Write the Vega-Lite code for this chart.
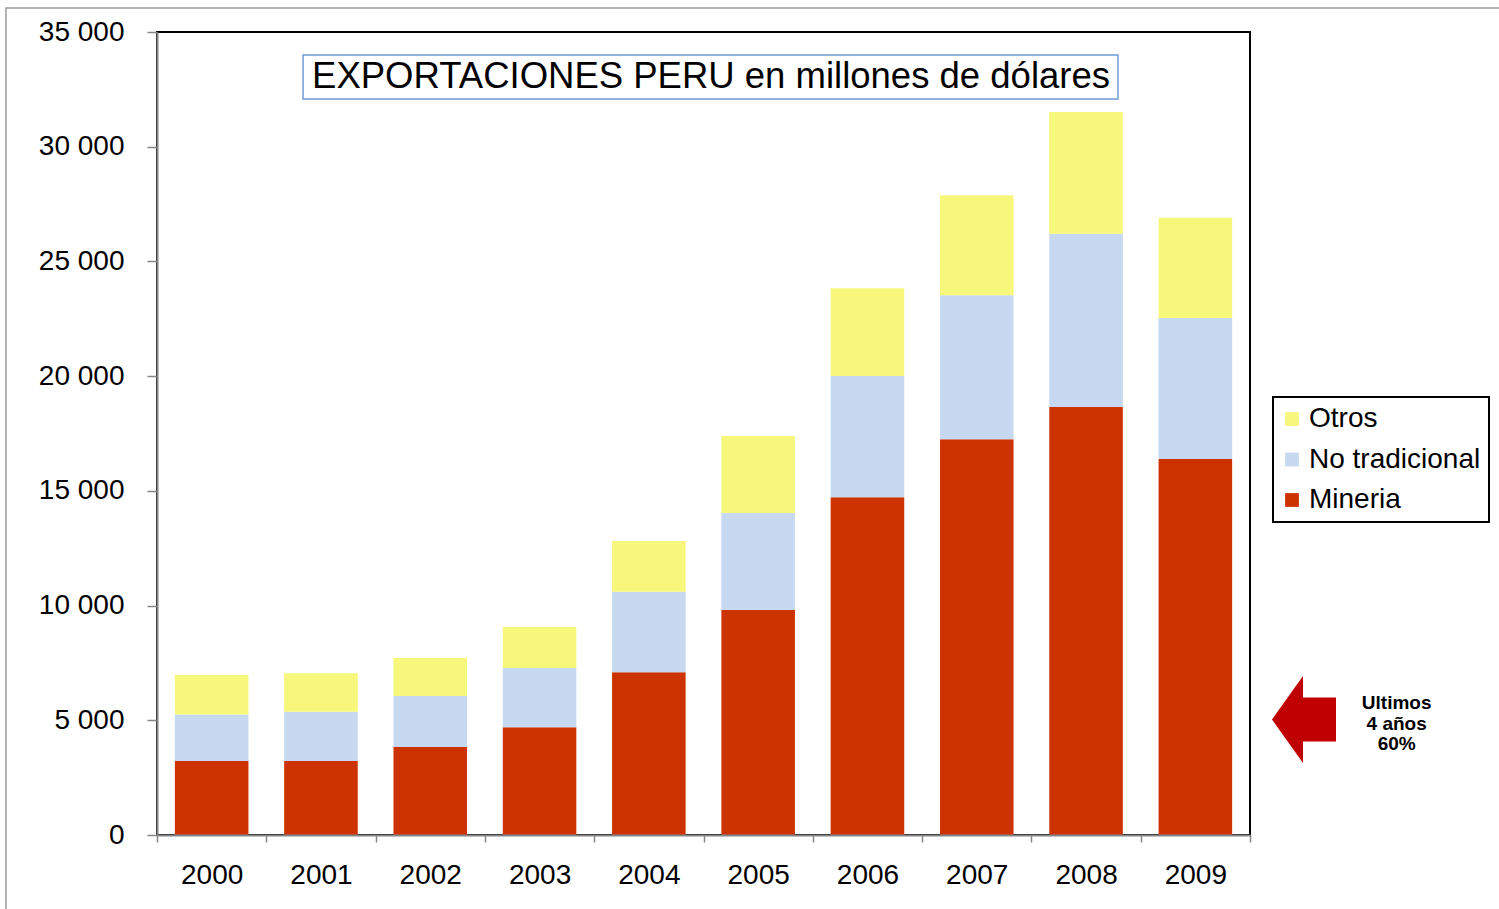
{
  "$schema": "https://vega.github.io/schema/vega-lite/v6.json",
  "width": 1093,
  "height": 803,
  "autosize": {"type": "none"},
  "padding": {"left": 157, "top": 32, "right": 249, "bottom": 74},
  "background": "white",
  "config": {
    "locale": {"number": {"decimal": ",", "thousands": " ", "grouping": [3], "currency": ["", ""]}},
    "font": "Liberation Sans",
    "view": {"stroke": "#000000", "strokeWidth": 2},
    "legend": {"strokeWidth": 2}
  },
  "layer": [
    {
      "data": {"values": [{"xa": -0.1382, "xb": 1.35, "ya": 36046, "yb": -6000}]},
      "mark": {"type": "rect", "fillOpacity": 0, "stroke": "#9a9a9a", "strokeWidth": 1.5},
      "encoding": {
        "x": {"field": "xa", "type": "quantitative", "scale": {"domain": [0, 1], "nice": false, "zero": false}, "axis": null},
        "x2": {"field": "xb"},
        "y": {"field": "ya", "type": "quantitative", "scale": {"domain": [0, 35000], "nice": false}, "axis": null},
        "y2": {"field": "yb"}
      }
    },
    {
      "data": {"values": [
        {"year": "2000", "tipo": "Mineria", "value": 3225},
        {"year": "2000", "tipo": "No tradicional", "value": 2030},
        {"year": "2000", "tipo": "Otros", "value": 1720},
        {"year": "2001", "tipo": "Mineria", "value": 3225},
        {"year": "2001", "tipo": "No tradicional", "value": 2149},
        {"year": "2001", "tipo": "Otros", "value": 1674},
        {"year": "2002", "tipo": "Mineria", "value": 3836},
        {"year": "2002", "tipo": "No tradicional", "value": 2223},
        {"year": "2002", "tipo": "Otros", "value": 1656},
        {"year": "2003", "tipo": "Mineria", "value": 4694},
        {"year": "2003", "tipo": "No tradicional", "value": 2585},
        {"year": "2003", "tipo": "Otros", "value": 1787},
        {"year": "2004", "tipo": "Mineria", "value": 7092},
        {"year": "2004", "tipo": "No tradicional", "value": 3513},
        {"year": "2004", "tipo": "Otros", "value": 2209},
        {"year": "2005", "tipo": "Mineria", "value": 9807},
        {"year": "2005", "tipo": "No tradicional", "value": 4228},
        {"year": "2005", "tipo": "Otros", "value": 3356},
        {"year": "2006", "tipo": "Mineria", "value": 14720},
        {"year": "2006", "tipo": "No tradicional", "value": 5286},
        {"year": "2006", "tipo": "Otros", "value": 3823},
        {"year": "2007", "tipo": "Mineria", "value": 17247},
        {"year": "2007", "tipo": "No tradicional", "value": 6277},
        {"year": "2007", "tipo": "Otros", "value": 4359},
        {"year": "2008", "tipo": "Mineria", "value": 18655},
        {"year": "2008", "tipo": "No tradicional", "value": 7554},
        {"year": "2008", "tipo": "Otros", "value": 5304},
        {"year": "2009", "tipo": "Mineria", "value": 16389},
        {"year": "2009", "tipo": "No tradicional", "value": 6145},
        {"year": "2009", "tipo": "Otros", "value": 4372}
      ]},
      "mark": {"type": "bar", "width": {"band": 0.673}},
      "encoding": {
        "x": {
          "field": "year", "type": "nominal",
          "scale": {"paddingInner": 0, "paddingOuter": 0},
          "axis": {
            "title": null, "labelAngle": 0, "tickBand": "extent",
            "labelFontSize": 28, "labelColor": "#000000", "labelPadding": 19,
            "tickSize": 7, "tickColor": "#868686", "tickWidth": 1.5,
            "domainColor": "#868686", "domainWidth": 2, "zindex": 1
          }
        },
        "y": {
          "field": "value", "type": "quantitative", "stack": "zero",
          "scale": {"domain": [0, 35000], "nice": false},
          "axis": {
            "title": null, "format": ",d",
            "values": [0, 5000, 10000, 15000, 20000, 25000, 30000, 35000],
            "labelFontSize": 28, "labelColor": "#000000", "labelPadding": 23,
            "tickSize": 10, "tickColor": "#868686", "tickWidth": 1.5,
            "domainColor": "#868686", "domainWidth": 2,
            "gridColor": "#9a9a9a",
            "gridWidth": 1.4
          }
        },
        "color": {
          "field": "tipo", "type": "nominal",
          "scale": {"domain": ["Otros", "No tradicional", "Mineria"], "range": ["#F6F77B", "#C6D9F1", "#CC3300"]},
          "legend": {
            "title": null, "orient": "none", "legendX": 1116, "legendY": 365,
            "symbolType": "square", "symbolSize": 190, "symbolStrokeWidth": 0,
            "labelFontSize": 28, "labelColor": "#000000", "labelOffset": 3, "labelLimit": 400,
            "strokeColor": "#000000", "fillColor": "#ffffff",
            "padding": 8, "rowPadding": 12.5, "symbolOffset": -3
          }
        },
        "order": {"field": "tipo", "sort": "ascending"}
      }
    },
    {
      "data": {"values": [{"xa": 0.1336, "xb": 0.8792, "ya": 33998, "yb": 32080}]},
      "mark": {"type": "rect", "fill": "#ffffff", "stroke": "#6F9BD9", "strokeWidth": 1.5},
      "encoding": {
        "x": {"field": "xa", "type": "quantitative", "scale": {"domain": [0, 1], "nice": false, "zero": false}, "axis": null},
        "x2": {"field": "xb"},
        "y": {"field": "ya", "type": "quantitative", "scale": {"domain": [0, 35000], "nice": false}, "axis": null},
        "y2": {"field": "yb"}
      }
    },
    {
      "data": {"values": [{"px": 0.5069, "py": 33017, "t": "EXPORTACIONES PERU en millones de dólares"}]},
      "mark": {"type": "text", "fontSize": 36.5, "align": "center", "baseline": "middle", "color": "#000000"},
      "encoding": {
        "x": {"field": "px", "type": "quantitative", "scale": {"domain": [0, 1], "nice": false, "zero": false}, "axis": null},
        "y": {"field": "py", "type": "quantitative", "scale": {"domain": [0, 35000], "nice": false}, "axis": null},
        "text": {"field": "t"}
      }
    },
    {
      "data": {"values": [{"px": 1.0494, "py": 5034}]},
      "mark": {
        "type": "point", "filled": true, "opacity": 1, "fill": "#C00000", "strokeWidth": 0, "size": 7569,
        "shape": "M-0.736,0 L-0.023,-1 L-0.023,-0.506 L0.736,-0.506 L0.736,0.506 L-0.023,0.506 L-0.023,1 Z"
      },
      "encoding": {
        "x": {"field": "px", "type": "quantitative", "scale": {"domain": [0, 1], "nice": false, "zero": false}, "axis": null},
        "y": {"field": "py", "type": "quantitative", "scale": {"domain": [0, 35000], "nice": false}, "axis": null}
      }
    },
    {
      "data": {"values": [{"px": 1.1342, "py": 5732, "t": "Ultimos\n4 años\n60%"}]},
      "mark": {"type": "text", "fontSize": 19, "fontWeight": "bold", "lineBreak": "\n", "lineHeight": 20.5, "align": "center", "baseline": "middle", "color": "#000000"},
      "encoding": {
        "x": {"field": "px", "type": "quantitative", "scale": {"domain": [0, 1], "nice": false, "zero": false}, "axis": null},
        "y": {"field": "py", "type": "quantitative", "scale": {"domain": [0, 35000], "nice": false}, "axis": null},
        "text": {"field": "t"}
      }
    }
  ],
  "resolve": {"scale": {"x": "independent", "y": "independent", "color": "independent"}}
}
